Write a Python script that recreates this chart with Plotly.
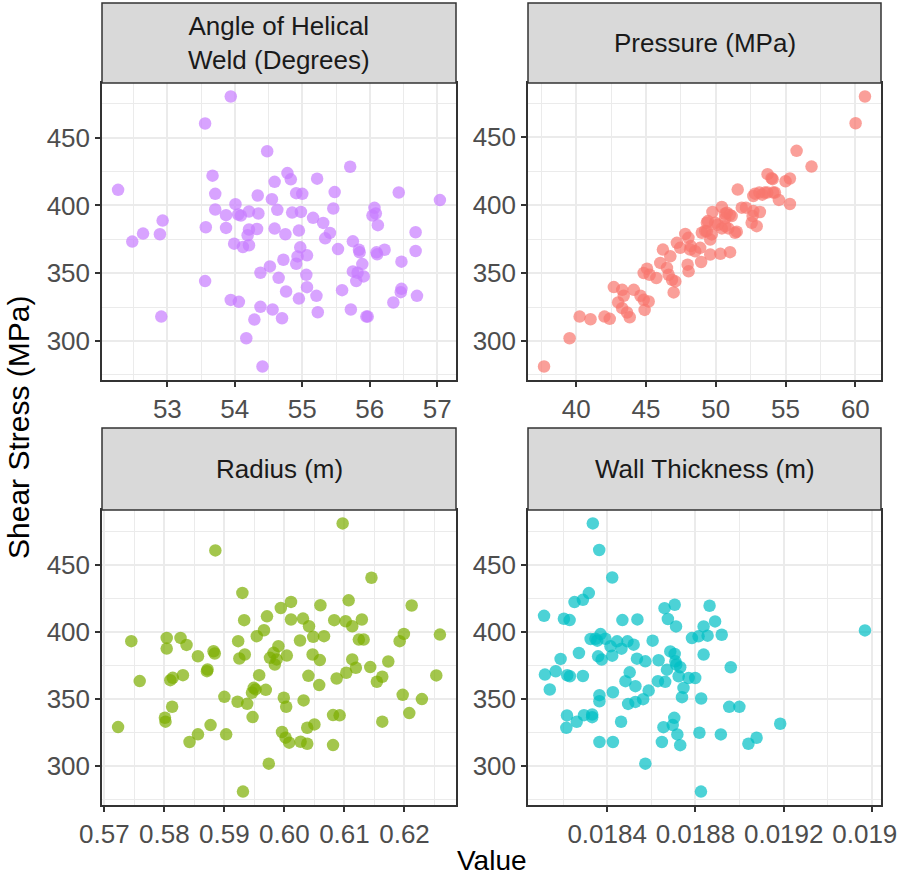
import plotly.graph_objects as go

# ---------------- data ----------------
angle_x = [53.94, 53.56, 54.48, 55.71, 53.67, 54.78, 54.83, 55.22, 54.59, 52.27, 56.43, 57.04, 53.71, 54.34,
           54.91, 55.0, 55.48, 54.01, 54.55, 56.07, 55.46, 53.71, 53.87, 54.05, 54.09, 54.21, 54.35, 54.63,
           54.85, 54.98, 55.16, 55.31, 56.04, 56.09, 56.12, 52.93, 53.57, 53.87, 54.21, 54.33, 54.59, 54.95,
           52.64, 52.89, 52.48, 54.19, 54.75, 55.41, 55.34, 56.68, 53.99, 54.12, 54.21, 54.97, 55.53, 55.75,
           55.84, 55.85, 56.22, 56.10, 56.11, 56.68, 56.47, 54.72, 54.93, 55.07, 54.91, 54.52, 54.38, 54.65,
           55.06, 55.89, 55.75, 55.82, 55.91, 55.80, 53.56, 55.07, 54.76, 55.21, 54.95, 55.59, 56.47, 56.46,
           56.70, 56.35, 53.94, 54.06, 54.38, 54.56, 55.23, 55.72, 55.95, 55.97, 52.91, 54.29, 54.70, 54.17,
           54.41]
angle_y = [480.3, 460.4, 439.9, 428.5, 421.9, 423.8, 419.2, 419.7, 417.4, 411.5, 409.5, 403.9, 408.5, 407.3,
           409.0, 408.5, 409.8, 400.9, 404.6, 398.2, 397.7, 397.0, 392.8, 393.3, 392.5, 395.5, 394.0, 396.7,
           394.7, 395.2, 390.8, 387.1, 392.5, 394.0, 385.4, 388.8, 383.9, 383.4, 382.2, 382.6, 382.9, 381.4,
           379.2, 378.7, 373.3, 378.0, 378.7, 379.7, 375.7, 380.2, 371.8, 369.3, 370.6, 369.1, 367.8, 373.5,
           367.3, 365.4, 367.3, 365.4, 363.9, 366.4, 358.5, 359.9, 362.4, 363.2, 357.0, 355.0, 350.3, 346.6,
           348.8, 356.7, 351.3, 350.3, 347.6, 344.2, 344.2, 339.7, 336.5, 333.3, 331.3, 337.5, 338.5, 336.0,
           333.3, 328.4, 330.3, 328.9, 325.2, 323.2, 321.2, 323.2, 318.0, 318.0, 318.0, 315.8, 316.8, 302.0,
           281.2]

pressure_x = [37.69, 39.52, 40.24, 41.02, 42.02, 42.40, 42.69, 43.29, 44.12, 43.40, 44.60, 44.83, 45.19, 43.0,
              43.29, 43.64, 43.83, 44.90, 45.07, 44.83, 45.26, 45.74, 46.62, 46.86, 47.1, 46.98, 46.5, 46.02,
              48.05, 47.98, 46.21, 46.74, 47.21, 47.45, 47.81, 48.21, 48.52, 48.95, 49.60, 50.33, 51.02, 48.88,
              48.04, 48.16, 49.0, 49.36, 49.71, 49.60, 49.43, 49.95, 50.43, 50.90, 51.38, 49.76, 50.43, 50.67,
              51.0, 50.67, 50.14, 49.36, 50.67, 51.14, 50.79, 51.57, 51.86, 52.16, 52.69, 53.16, 52.57, 52.93,
              52.64, 52.81, 53.12, 53.33, 53.69, 54.12, 52.69, 54.52, 55.31, 53.71, 54.0, 55.0, 55.31, 54.07,
              55.79, 56.86, 60.02, 60.69, 49.24, 51.5, 53.52, 54.24]
pressure_y = [281.2, 302.0, 318.0, 316.0, 318.0, 316.3, 339.7, 337.7, 337.7, 333.3, 333.3, 330.3, 329.1, 328.4,
              324.2, 321.0, 317.5, 322.9, 353.3, 350.1, 348.8, 346.4, 348.8, 345.1, 343.9, 335.8, 353.8, 357.5,
              351.3, 356.2, 367.3, 362.4, 372.3, 368.6, 378.9, 369.9, 366.1, 358.2, 363.7, 364.2, 365.4, 368.6,
              376.0, 367.4, 379.7, 380.9, 378.5, 374.7, 388.3, 387.1, 382.9, 382.9, 379.7, 395.0, 398.7, 393.7,
              392.8, 390.5, 385.6, 387.1, 384.6, 392.0, 394.5, 411.5, 398.2, 398.2, 395.7, 395.0, 387.1, 384.6,
              392.0, 408.5, 409.3, 407.8, 409.3, 409.3, 406.8, 403.9, 400.9, 422.9, 419.9, 417.7, 419.7, 419.2,
              440.1, 428.5, 460.4, 480.1, 381.0, 380.5, 409.3, 409.3]

radius_x = [0.6097, 0.5885, 0.6145, 0.5930, 0.6011, 0.5994, 0.6060, 0.6107, 0.6212, 0.5971, 0.5933, 0.6011,
            0.6031, 0.6041, 0.6083, 0.6102, 0.6113, 0.6129, 0.5966, 0.5954, 0.5745, 0.5804, 0.5804, 0.5827,
            0.5837, 0.5923, 0.6026, 0.6048, 0.6066, 0.6124, 0.6132, 0.6199, 0.6192, 0.6259, 0.5882, 0.5884,
            0.5856, 0.5925, 0.5934, 0.5990, 0.5982, 0.5976, 0.5987, 0.5984, 0.6004, 0.6047, 0.6059, 0.6113,
            0.6119, 0.6103, 0.6087, 0.6143, 0.6173, 0.6154, 0.6163, 0.6253, 0.5759, 0.5810, 0.5814, 0.5831,
            0.5871, 0.5872, 0.5958, 0.6040, 0.6058, 0.5949, 0.5952, 0.5969, 0.5946, 0.5900, 0.5922, 0.5938,
            0.5999, 0.6003, 0.6032, 0.5947, 0.5813, 0.5801, 0.5802, 0.6197, 0.6229, 0.6208, 0.6081, 0.6092,
            0.6163, 0.5723, 0.5877, 0.5856, 0.5842, 0.5903, 0.5996, 0.6002, 0.6008, 0.6027, 0.6038, 0.6038,
            0.6050, 0.6081, 0.5974, 0.5931]
radius_y = [480.7, 460.6, 440.3, 429.0, 422.3, 417.8, 419.8, 423.5, 419.6, 411.6, 408.7, 409.2, 409.9, 404.2,
            408.7, 407.9, 404.2, 409.2, 401.2, 396.8, 393.1, 395.5, 387.6, 395.5, 390.3, 393.1, 393.6, 396.3,
            396.8, 394.3, 394.3, 398.5, 393.1, 398.0, 385.6, 383.9, 381.9, 380.2, 383.2, 389.4, 384.4, 380.7,
            379.5, 375.7, 382.4, 383.2, 379.0, 379.5, 373.3, 369.6, 365.3, 373.8, 378.0, 362.9, 366.6, 367.6,
            363.4, 364.1, 365.8, 367.8, 370.8, 372.0, 367.8, 367.3, 360.4, 358.4, 357.2, 356.9, 354.7, 351.7,
            348.0, 346.5, 351.0, 344.3, 349.0, 336.6, 344.3, 336.1, 333.2, 353.2, 350.0, 339.6, 338.1, 337.9,
            333.2, 329.2, 330.7, 323.8, 318.1, 323.8, 325.5, 321.3, 317.6, 318.3, 316.8, 328.7, 331.2, 315.8,
            302.0, 281.2]

wall_x = [0.018335, 0.018364, 0.018423, 0.018317, 0.018290, 0.018252, 0.018114, 0.018204, 0.018230, 0.018469,
          0.018537, 0.018660, 0.018706, 0.018675, 0.018712, 0.018864, 0.018889, 0.018837, 0.019568, 0.018919,
          0.018855, 0.018814, 0.018784, 0.018325, 0.018347, 0.018370, 0.018355, 0.018392, 0.018445, 0.018415,
          0.018465, 0.018492, 0.018520, 0.018606, 0.018272, 0.018189, 0.018359, 0.018375, 0.018423, 0.018535,
          0.018573, 0.018633, 0.018686, 0.018706, 0.018709, 0.018713, 0.018731, 0.018671, 0.018837, 0.018960,
          0.018118, 0.018167, 0.018219, 0.018231, 0.018290, 0.018140, 0.018502, 0.018483, 0.018528, 0.018588,
          0.018630, 0.018663, 0.018724, 0.018769, 0.018799, 0.018746, 0.018739, 0.018826, 0.018365, 0.018365,
          0.018426, 0.018495, 0.018528, 0.018563, 0.018953, 0.018999, 0.018218, 0.018262, 0.018215, 0.018295,
          0.018332, 0.018332, 0.018463, 0.018704, 0.018697, 0.018655, 0.018718, 0.018731, 0.018648, 0.018818,
          0.018915, 0.019040, 0.019077, 0.019184, 0.018365, 0.018426, 0.018573, 0.018825]
wall_y = [480.9, 461.1, 440.6, 429.0, 424.0, 422.3, 412.1, 409.9, 408.9, 408.9, 409.4, 417.8, 420.3, 409.7,
          404.2, 419.6, 407.9, 404.2, 401.2, 398.0, 397.3, 396.8, 395.5, 394.8, 395.0, 398.5, 393.6, 395.0,
          393.1, 389.4, 387.6, 393.1, 390.6, 393.6, 384.4, 380.0, 381.9, 379.5, 382.4, 380.2, 378.2, 379.0,
          385.6, 383.7, 378.2, 375.7, 373.8, 372.0, 383.2, 373.8, 368.3, 370.8, 367.8, 367.1, 367.3, 357.2,
          370.0, 363.4, 359.7, 356.4, 363.4, 362.9, 367.1, 365.8, 365.8, 358.4, 351.5, 350.5, 353.0, 348.5,
          355.2, 346.5, 348.0, 350.0, 344.3, 344.3, 337.9, 333.2, 328.7, 338.1, 338.6, 336.6, 333.2, 336.1,
          330.7, 329.2, 323.8, 315.8, 318.1, 325.0, 323.8, 316.8, 321.3, 331.7, 318.1, 318.1, 302.0, 281.2]

facet_titles = ["Angle of Helical<br>Weld (Degrees)", "Pressure (MPa)", "Radius (m)", "Wall Thickness (m)"]
facet_colors = ["#C77CFF", "#F8766D", "#7CAE00", "#00BFC4"]
y_ticks = [300, 350, 400, 450]
x_ticks = [
    [53, 54, 55, 56, 57],
    [40, 45, 50, 55, 60],
    [0.57, 0.58, 0.59, 0.60, 0.61, 0.62],
    [0.0184, 0.0188, 0.0192, 0.0196],
]
x_ticktext = [
    ["53", "54", "55", "56", "57"],
    ["40", "45", "50", "55", "60"],
    ["0.57", "0.58", "0.59", "0.60", "0.61", "0.62"],
    ["0.0184", "0.0188", "0.0192", "0.0196"],
]
x_minor = [
    [52.5, 53.5, 54.5, 55.5, 56.5],
    [37.5, 42.5, 47.5, 52.5, 57.5],
    [0.575, 0.585, 0.595, 0.605, 0.615, 0.625],
    [0.0182, 0.0186, 0.0190, 0.0194],
]
y_minor = [275, 325, 375, 425, 475]

series_x = [angle_x, pressure_x, radius_x, wall_x]
series_y = [angle_y, pressure_y, radius_y, wall_y]

# ---------------- layout geometry ----------------
W, H = 898, 875
FONT = "Liberation Sans, Arial, Helvetica, sans-serif"
col_px = [(102, 456), (528, 881)]
row_px = [(83, 380), (510, 805)]       # plot area (top, bottom) in px
strip_px = [(3, 83), (428, 510)]


def expand(vals, f=0.05):
    lo, hi = min(vals), max(vals)
    s = hi - lo
    return [lo - f * s, hi + f * s]


fig = go.Figure()
shapes = []
annotations = []

for i in range(4):
    r, c = divmod(i, 2)
    n = i + 1
    xa = "x" if n == 1 else f"x{n}"
    ya = "y" if n == 1 else f"y{n}"
    fig.add_trace(go.Scatter(
        x=series_x[i], y=series_y[i], mode="markers",
        marker=dict(color=facet_colors[i], size=12.5, opacity=0.7, line=dict(width=0)),
        xaxis=xa, yaxis=ya, showlegend=False, hoverinfo="x+y",
    ))
    xd = [col_px[c][0] / W, col_px[c][1] / W]
    yd = [1 - row_px[r][1] / H, 1 - row_px[r][0] / H]
    common = dict(
        showgrid=True, gridcolor="#EBEBEB", gridwidth=2,
        ticks="outside", ticklen=5, tickwidth=1.5, tickcolor="#333333",
        showline=True, mirror=True, linecolor="#333333", linewidth=1.5,
        zeroline=False, tickfont=dict(family=FONT, size=26, color="#4D4D4D"),
        ticklabeloverflow="allow", automargin=False,
    )
    fig.layout[("xaxis" if n == 1 else f"xaxis{n}")] = dict(
        common, domain=xd, anchor=ya, range=expand(series_x[i]),
        tickmode="array", tickvals=x_ticks[i], ticktext=x_ticktext[i],
        minor=dict(tickmode="array", tickvals=x_minor[i], showgrid=True,
                   gridcolor="#EBEBEB", gridwidth=1, ticks=""),
    )
    fig.layout[("yaxis" if n == 1 else f"yaxis{n}")] = dict(
        common, domain=yd, anchor=xa, range=expand(series_y[i]),
        tickmode="array", tickvals=y_ticks, ticktext=[str(v) for v in y_ticks],
        minor=dict(tickmode="array", tickvals=y_minor, showgrid=True,
                   gridcolor="#EBEBEB", gridwidth=1, ticks=""),
    )
    # strip
    sy0 = 1 - strip_px[r][1] / H
    sy1 = 1 - strip_px[r][0] / H
    shapes.append(dict(type="rect", xref="paper", yref="paper", x0=xd[0], x1=xd[1],
                       y0=sy0, y1=sy1, fillcolor="#D9D9D9",
                       line=dict(color="#333333", width=1.5), layer="above"))
    annotations.append(dict(text=facet_titles[i], xref="paper", yref="paper",
                            x=(xd[0] + xd[1]) / 2, y=(sy0 + sy1) / 2,
                            xanchor="center", yanchor="middle", showarrow=False,
                            font=dict(family=FONT, size=26, color="#1A1A1A")))

annotations.append(dict(text="Value", xref="paper", yref="paper",
                        x=(col_px[0][0] + col_px[1][1]) / 2 / W, y=1 - 860 / H,
                        xanchor="center", yanchor="middle", showarrow=False,
                        font=dict(family=FONT, size=28, color="black")))
annotations.append(dict(text="Shear Stress (MPa)", xref="paper", yref="paper",
                        x=19 / W, y=1 - 428 / H, textangle=-90,
                        xanchor="center", yanchor="middle", showarrow=False,
                        font=dict(family=FONT, size=30, color="black")))

fig.update_layout(
    width=W, height=H, margin=dict(l=0, r=0, t=0, b=0, autoexpand=False),
    paper_bgcolor="white", plot_bgcolor="white",
    shapes=shapes, annotations=annotations,
    font=dict(family=FONT),
)

fig.write_html("out.html")
